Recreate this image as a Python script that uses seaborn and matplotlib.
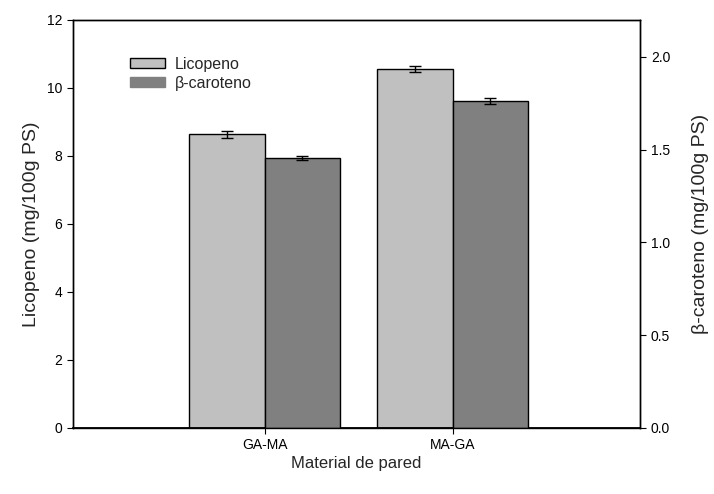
import matplotlib
matplotlib.use("Agg")
import matplotlib.pyplot as plt
import seaborn as sns
import pandas as pd
from matplotlib.patches import Patch

materials = ["GA-MA", "MA-GA"]
licopeno = [8.63, 10.55]
licopeno_err = [0.11, 0.09]
caroteno = [1.457, 1.763]
caroteno_err = [0.011, 0.016]
series = ["Licopeno", "β-caroteno"]
colors = {"Licopeno": "#c0c0c0", "β-caroteno": "#808080"}

sns.set_style("ticks")
plt.rcParams["font.family"] = ["Liberation Sans", "DejaVu Sans"]

df_lic = pd.DataFrame({"material": materials, "valor": licopeno, "serie": "Licopeno"})
df_car = pd.DataFrame({"material": materials, "valor": caroteno, "serie": "β-caroteno"})

fig, ax = plt.subplots(figsize=(7.14, 4.94), dpi=100)
ax2 = ax.twinx()

sns.barplot(data=df_lic, x="material", y="valor", hue="serie", hue_order=series,
            palette=colors, order=materials, width=0.8, dodge=True, edgecolor="black",
            linewidth=1.0, errorbar=None, legend=False, ax=ax)
sns.barplot(data=df_car, x="material", y="valor", hue="serie", hue_order=series,
            palette=colors, order=materials, width=0.8, dodge=True, edgecolor="black",
            linewidth=1.0, errorbar=None, legend=False, ax=ax2)

# error bars at the bar centres
for axis, vals, errs in [(ax, licopeno, licopeno_err), (ax2, caroteno, caroteno_err)]:
    bars = [p for p in axis.patches if p.get_height() > 0]
    bars.sort(key=lambda p: p.get_x())
    xs = [p.get_x() + p.get_width() / 2 for p in bars]
    axis.errorbar(xs, vals, yerr=errs, fmt="none", ecolor="black",
                  elinewidth=1.0, capsize=4, capthick=1.0)

ax.set_xlim(-1.02, 2.0)
ax.set_ylim(0, 12)
ax2.set_ylim(0, 2.2)
ax.set_yticks(range(0, 13, 2))
ax2.set_yticks([0.0, 0.5, 1.0, 1.5, 2.0])
ax2.set_yticklabels(["0.0", "0.5", "1.0", "1.5", "2.0"])

ax.set_xlabel("Material de pared", fontsize=12, labelpad=3)
ax.set_ylabel("Licopeno (mg/100g PS)", fontsize=14, labelpad=5)
ax2.set_ylabel("β-caroteno (mg/100g PS)", fontsize=14, labelpad=16)

for a in (ax, ax2):
    a.tick_params(direction="out", length=4, width=0.8, labelsize=10, colors="black")
    for s in a.spines.values():
        s.set_visible(True)
        s.set_color("black")
        s.set_linewidth(1.0)
ax.spines["bottom"].set_linewidth(1.3)

handles = [Patch(facecolor=colors["Licopeno"], edgecolor="black", linewidth=1.0),
           Patch(facecolor=colors["β-caroteno"], edgecolor=colors["β-caroteno"], linewidth=1.0)]
ax.legend(handles, series, loc="upper left", bbox_to_anchor=(0.075, 0.945),
          frameon=False, fontsize=11.5, handlelength=2.2, handleheight=0.55,
          handletextpad=0.6, labelspacing=0.25)

fig.subplots_adjust(left=0.102, right=0.897, top=0.96, bottom=0.134)
fig.savefig("out.png", dpi=100)
